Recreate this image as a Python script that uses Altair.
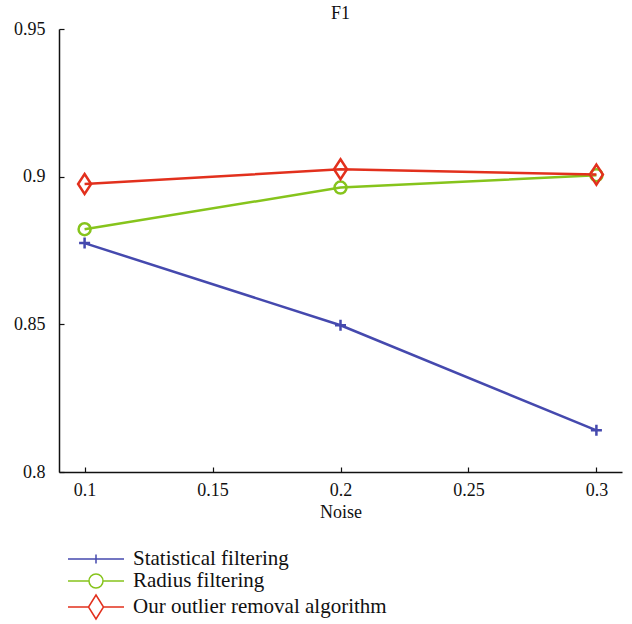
import altair as alt
import pandas as pd

noise = [0.1, 0.2, 0.3]
statistical = [0.8775, 0.8497, 0.8141]
radius = [0.8822, 0.8963, 0.9005]
ours = [0.8975, 0.9025, 0.9007]

series_names = ["Statistical filtering", "Radius filtering", "Our outlier removal algorithm"]
series_colors = ["#4549ae", "#86c41c", "#e2301d"]
x_ticks = [0.1, 0.15, 0.2, 0.25, 0.3]
y_ticks = [0.8, 0.85, 0.9, 0.95]

rows = []
for name, vals in zip(series_names, [statistical, radius, ours]):
    for xv, yv in zip(noise, vals):
        rows.append({"Noise": xv, "F1": yv, "Method": name})
df = pd.DataFrame(rows)

FONT = "serif"

plot_shapes = [
    "M-0.55,0L0.55,0M0,-0.55L0,0.55",
    "M-0.6,0A0.6,0.6,0,1,1,0.6,0A0.6,0.6,0,1,1,-0.6,0",
    "M0,-1L0.65,0L0,1L-0.65,0Z",
]
legend_shapes = [
    "M-2.8,0L2.8,0M0,-0.45L0,0.45",
    "M-2.8,0L-0.7,0M0.7,0L2.8,0M-0.7,0A0.7,0.7,0,1,1,0.7,0A0.7,0.7,0,1,1,-0.7,0",
    "M-2.8,0L-0.75,0M0.75,0L2.8,0M0,-1.2L0.75,0L0,1.2L-0.75,0Z",
]

x_scale = alt.Scale(domain=[0.09, 0.31], nice=False, zero=False)
y_scale = alt.Scale(domain=[0.8, 0.95], nice=False, zero=False)

x_main = alt.X("Noise:Q", scale=x_scale, axis=alt.Axis(
    values=x_ticks, format="~g", title="Noise", grid=False, ticks=False,
    labelPadding=9, titlePadding=4))
y_main = alt.Y("F1:Q", scale=y_scale, axis=alt.Axis(
    values=y_ticks, format="~g", title=None, grid=False, ticks=False,
    labelPadding=14))

x_tick = alt.X("Noise:Q", scale=x_scale, axis=alt.Axis(
    values=x_ticks, orient="bottom", offset=-5, tickSize=5, labels=False,
    domain=False, title=None, grid=False))
y_tick = alt.Y("F1:Q", scale=y_scale, axis=alt.Axis(
    values=y_ticks, orient="left", offset=-5, tickSize=5, labels=False,
    domain=False, title=None, grid=False))

color_nolegend = alt.Color("Method:N", scale=alt.Scale(domain=series_names, range=series_colors),
                           sort=series_names, legend=None)

base = alt.Chart(df)
lines = base.mark_line(strokeWidth=2.5).encode(x=x_main, y=y_main, color=color_nolegend)
points = base.mark_point(size=400, strokeWidth=2.5, filled=False, opacity=1).encode(
    x=x_main, y=y_main, color=color_nolegend,
    shape=alt.Shape("Method:N", scale=alt.Scale(domain=series_names, range=plot_shapes),
                    sort=series_names, legend=None),
)

legend_props = dict(
    title=None, orient="none", legendX=0, legendY=519,
    symbolSize=400, symbolStrokeWidth=1.5, symbolOffset=26,
    labelOffset=26, labelFontSize=21, labelFont=FONT, labelColor="#111",
    rowPadding=1, padding=0, labelLimit=400,
)

legend_layer = base.transform_filter("false").mark_point(
    size=400, strokeWidth=1.5, filled=False, opacity=1
).encode(
    color=alt.Color("Method:N", scale=alt.Scale(domain=series_names, range=series_colors),
                    sort=series_names, legend=alt.Legend(**legend_props)),
    shape=alt.Shape("Method:N", scale=alt.Scale(domain=series_names, range=legend_shapes),
                    sort=series_names, legend=alt.Legend(**legend_props)),
)

inner = alt.layer(lines, points, legend_layer).resolve_scale(
    color="independent", shape="independent"
).resolve_legend(color="independent", shape="independent")

tick_layer = base.mark_point(opacity=0).encode(x=x_tick, y=y_tick)

chart = (
    alt.layer(inner, tick_layer)
    .resolve_scale(x="independent", y="independent")
    .properties(
        width=563, height=443,
        title=alt.TitleParams("F1", font=FONT, fontSize=18, fontWeight="normal",
                              color="#111", offset=-3, anchor="middle", frame="group"),
        autosize=alt.AutoSizeParams(type="none"),
        padding={"left": 59, "top": 29, "right": 10, "bottom": 152},
    )
    .configure_view(stroke=None)
    .configure_axis(
        labelFont=FONT, labelFontSize=18, labelColor="#111",
        titleFont=FONT, titleFontSize=18, titleFontWeight="normal", titleColor="#111",
        domainColor="#111", domainWidth=1.5, tickColor="#111", tickWidth=1.2,
    )
)

chart.save("out.html", embed_options={"renderer": "svg", "actions": False})
